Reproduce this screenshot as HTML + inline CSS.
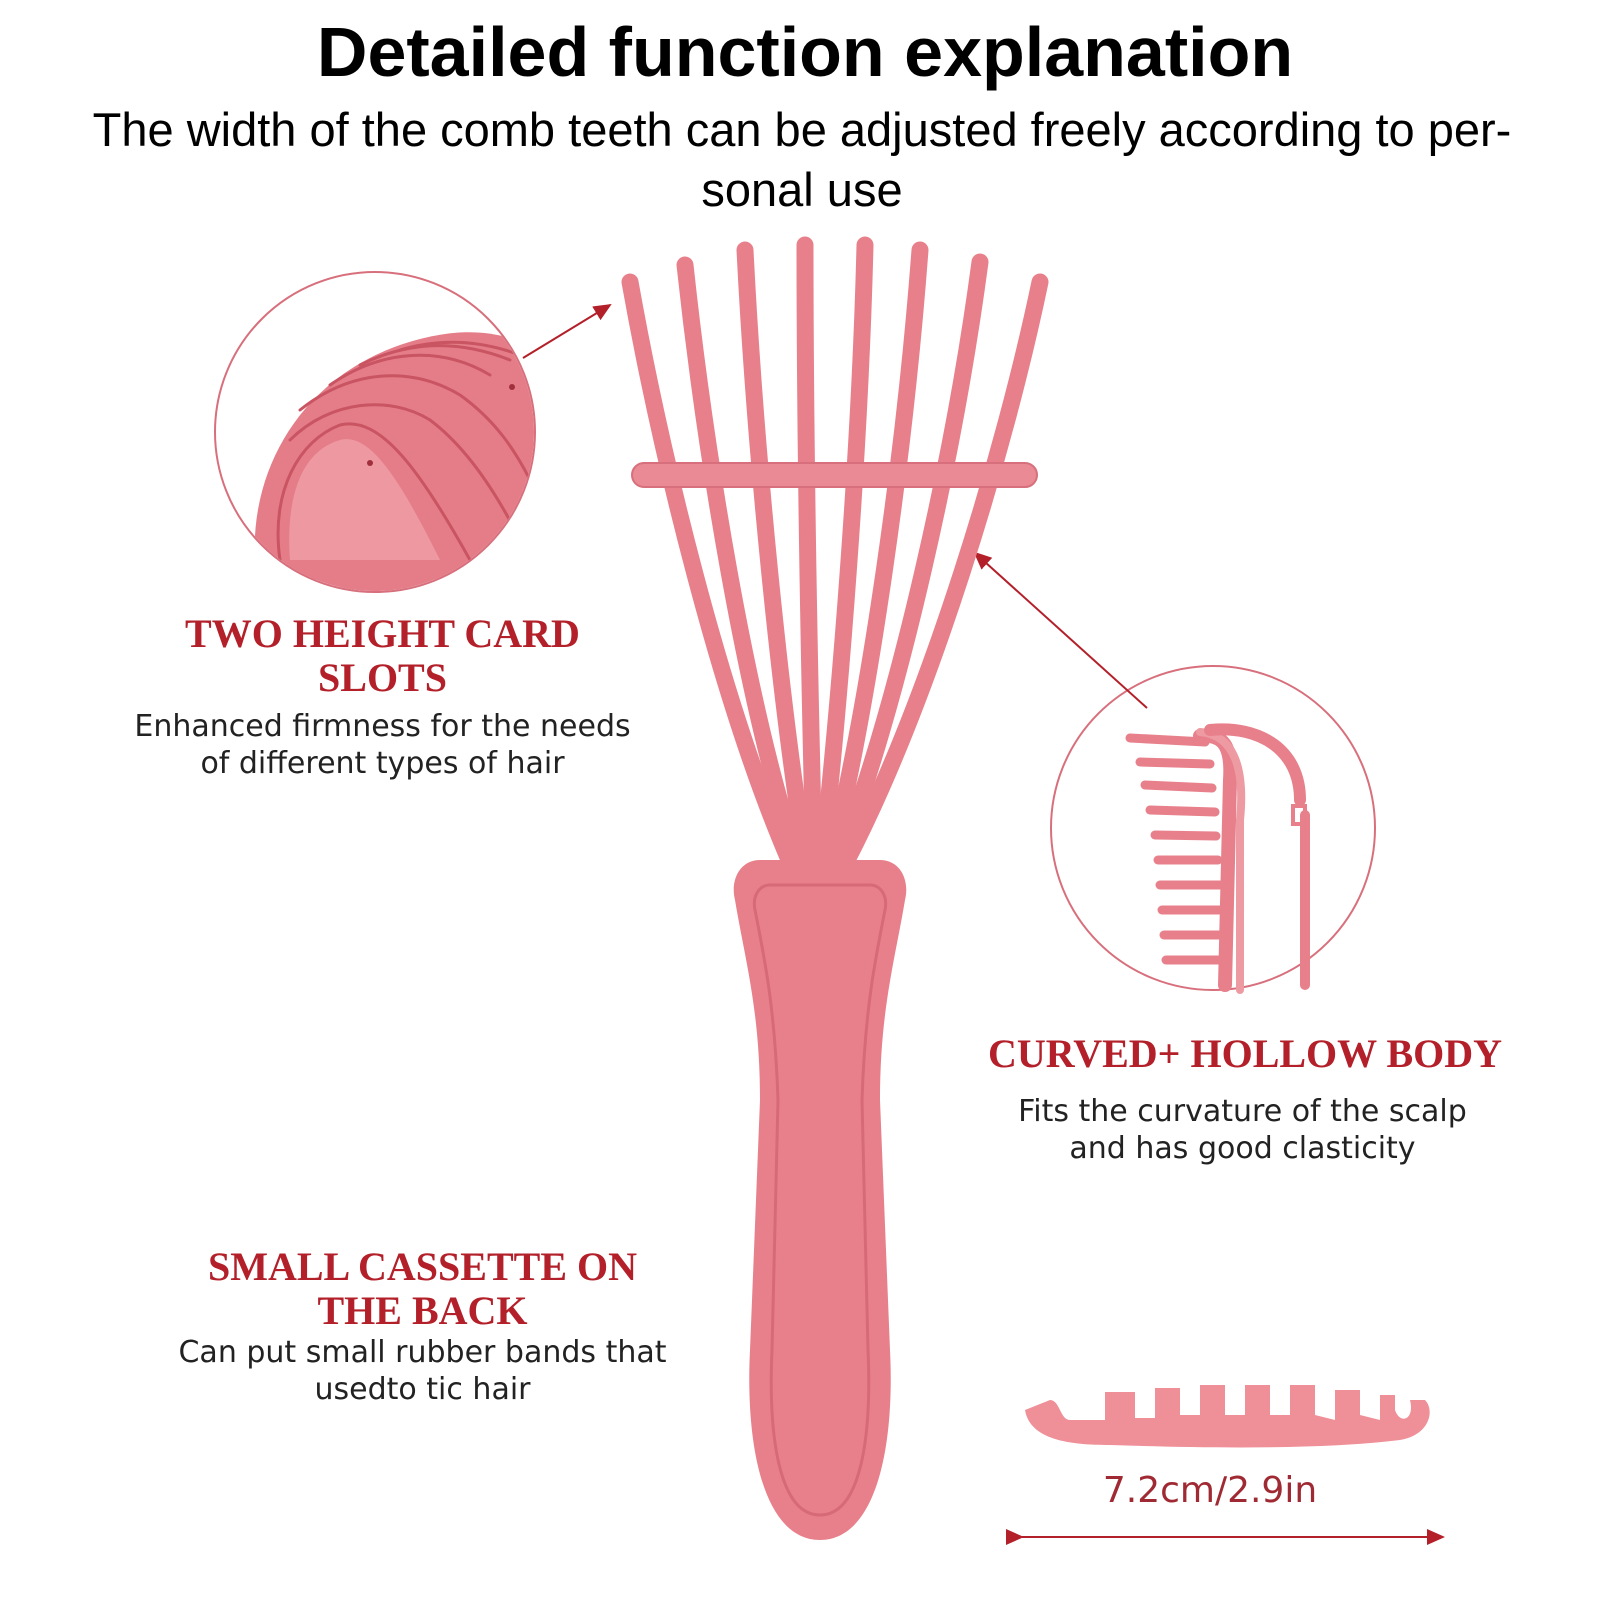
<!DOCTYPE html>
<html><head><meta charset="utf-8"><style>
body{margin:0;background:#fff;width:1600px;height:1600px;overflow:hidden;position:relative;font-family:"Liberation Sans",sans-serif}
.t{position:absolute;text-align:center;left:0;width:1600px}
.h{position:absolute;text-align:center;color:#b3202a;font-family:"Liberation Serif",serif;font-weight:bold;font-size:40px;line-height:44px}
.d{position:absolute;text-align:center;color:#222;font-family:"DejaVu Sans",sans-serif;font-size:30px;line-height:37px}
</style></head><body>
<div class="t" style="top:12px;font-size:70px;font-weight:bold;left:5px">Detailed function explanation</div>
<div class="t" style="top:100px;font-size:47px;line-height:60px;left:2px">The width of the comb teeth can be adjusted freely according to per-<br>sonal use</div>
<svg width="1600" height="1600" style="position:absolute;left:0;top:0">
<defs><marker id="a" markerWidth="10" markerHeight="10" refX="8" refY="5" orient="auto"><path d="M0,1 L9,5 L0,9z" fill="#b3202a"/></marker></defs>
<circle cx="375" cy="432" r="160" fill="#fff" stroke="#d7707c" stroke-width="2"/>
<clipPath id="c1"><circle cx="375" cy="432" r="159"/></clipPath>
<g clip-path="url(#c1)" stroke-linecap="round">
<g stroke="#e7848f" stroke-width="6"><line x1="245" y1="530" x2="232" y2="600"/><line x1="270" y1="540" x2="257" y2="600"/><line x1="295" y1="550" x2="282" y2="600"/><line x1="320" y1="560" x2="307" y2="600"/></g>
<path d="M255,560 C250,470 300,380 400,345 C460,325 500,330 540,350 L540,600 L330,600 C300,590 270,580 255,560Z" fill="#e57d89"/>
<g fill="none" stroke="#c95462" stroke-width="3">
<path d="M280,560 C270,490 300,440 340,425 C380,415 420,470 470,560"/>
<path d="M290,440 C330,400 390,395 430,420 C470,450 500,500 520,540"/>
<path d="M300,410 C350,370 410,365 460,395 C495,420 515,450 530,480"/>
<path d="M330,385 C380,350 440,345 490,375"/>
<path d="M360,365 C410,340 460,340 510,360"/>
<path d="M400,350 C440,338 480,340 520,355"/>
</g>
<path d="M290,560 C285,490 305,450 340,440 C370,432 400,480 440,560 Z" fill="#ee98a1"/>
<circle cx="370" cy="463" r="3" fill="#a0303c"/><circle cx="512" cy="387" r="3" fill="#a0303c"/>
</g>
<line x1="523" y1="358" x2="610" y2="305" stroke="#b3202a" stroke-width="2" marker-end="url(#a)"/>
<circle cx="1213" cy="828" r="162" fill="#fff" stroke="#d7707c" stroke-width="2"/>
<line x1="1147" y1="708" x2="975" y2="553" stroke="#b3202a" stroke-width="2" marker-end="url(#a)"/>
<g stroke="#e8808b" stroke-linecap="round" fill="none">
<path d="M1225,985 L1230,780 C1232,750 1225,735 1205,736 L1200,736" stroke-width="14"/>
<path d="M1240,990 L1240,820 C1245,770 1235,735 1200,732" stroke-width="8" stroke="#ee9aa3"/>
<rect x="1293" y="806" width="12" height="18" stroke-width="4"/>
<path d="M1305,815 L1305,985" stroke-width="10"/>
<path d="M1210,730 C1260,725 1300,750 1300,800" stroke-width="12"/>
<g stroke-width="9">
<line x1="1130" y1="738" x2="1205" y2="742"/><line x1="1140" y1="762" x2="1210" y2="764"/><line x1="1145" y1="785" x2="1212" y2="788"/><line x1="1150" y1="810" x2="1215" y2="812"/><line x1="1155" y1="835" x2="1216" y2="836"/><line x1="1158" y1="860" x2="1218" y2="860"/><line x1="1160" y1="885" x2="1220" y2="885"/><line x1="1162" y1="910" x2="1222" y2="910"/><line x1="1164" y1="935" x2="1224" y2="935"/><line x1="1166" y1="960" x2="1226" y2="960"/>
</g>
</g>
<g stroke="#e8808b" stroke-width="17" stroke-linecap="round" fill="none">
<path d="M630,282 C660,450 720,700 790,862"/>
<path d="M685,265 C705,450 745,700 798,862"/>
<path d="M745,250 C755,450 780,700 806,862"/>
<path d="M805,245 C805,450 810,700 814,862"/>
<path d="M865,245 C860,450 840,700 822,862"/>
<path d="M920,250 C905,450 870,700 830,862"/>
<path d="M980,262 C955,450 900,700 838,862"/>
<path d="M1040,282 C1005,450 930,700 846,862"/>
</g>
<rect x="632" y="463" width="405" height="24" rx="12" fill="#e98a94" stroke="#d7707c" stroke-width="2"/>
<path d="M760,860 L880,860 C900,860 910,880 905,900 C895,960 880,1010 880,1100 L890,1350 C895,1450 875,1540 820,1540 C765,1540 745,1450 750,1350 L760,1100 C760,1010 745,960 735,900 C730,880 740,860 760,860Z" fill="#e8808b"/>
<path d="M770,885 L870,885 C880,885 888,895 885,910 C875,960 865,1010 862,1100 L868,1350 C872,1440 860,1515 820,1515 C780,1515 768,1440 772,1350 L778,1100 C775,1010 765,960 755,910 C752,895 760,885 770,885Z" fill="none" stroke="#d76a77" stroke-width="3"/>
<path d="M1025,1410 C1030,1440 1070,1445 1110,1445 C1200,1448 1320,1450 1400,1440 C1430,1435 1435,1410 1425,1400 L1410,1400 C1415,1420 1400,1425 1395,1410 L1395,1395 L1380,1395 L1380,1420 L1360,1415 L1360,1390 L1335,1390 L1335,1420 L1315,1415 L1315,1385 L1290,1385 L1290,1415 L1270,1415 L1270,1385 L1245,1385 L1245,1415 L1225,1415 L1225,1385 L1200,1385 L1200,1415 L1180,1415 L1180,1388 L1155,1388 L1155,1418 L1135,1418 L1135,1392 L1105,1392 L1105,1420 L1070,1420 C1060,1420 1060,1400 1050,1400 Z" fill="#ef8f98"/>
<line x1="1022" y1="1537" x2="1443" y2="1537" stroke="#b3202a" stroke-width="2" marker-end="url(#a)" marker-start="url(#a)"/>
</svg>
<div class="h" style="left:150px;width:465px;top:612px">TWO HEIGHT CARD<br>SLOTS</div>
<div class="d" style="left:110px;width:545px;top:708px">Enhanced firmness for the needs<br>of different types of hair</div>
<div class="h" style="left:960px;width:570px;top:1032px">CURVED+ HOLLOW BODY</div>
<div class="d" style="left:980px;width:525px;top:1093px">Fits the curvature of the scalp<br>and has good clasticity</div>
<div class="h" style="left:160px;width:525px;top:1245px">SMALL CASSETTE ON<br>THE BACK</div>
<div class="d" style="left:150px;width:545px;top:1334px">Can put small rubber bands that<br>usedto tic hair</div>
<div class="d" style="left:1050px;width:320px;top:1472px;color:#a02a33;font-size:36px">7.2cm/2.9in</div>
</body></html>
